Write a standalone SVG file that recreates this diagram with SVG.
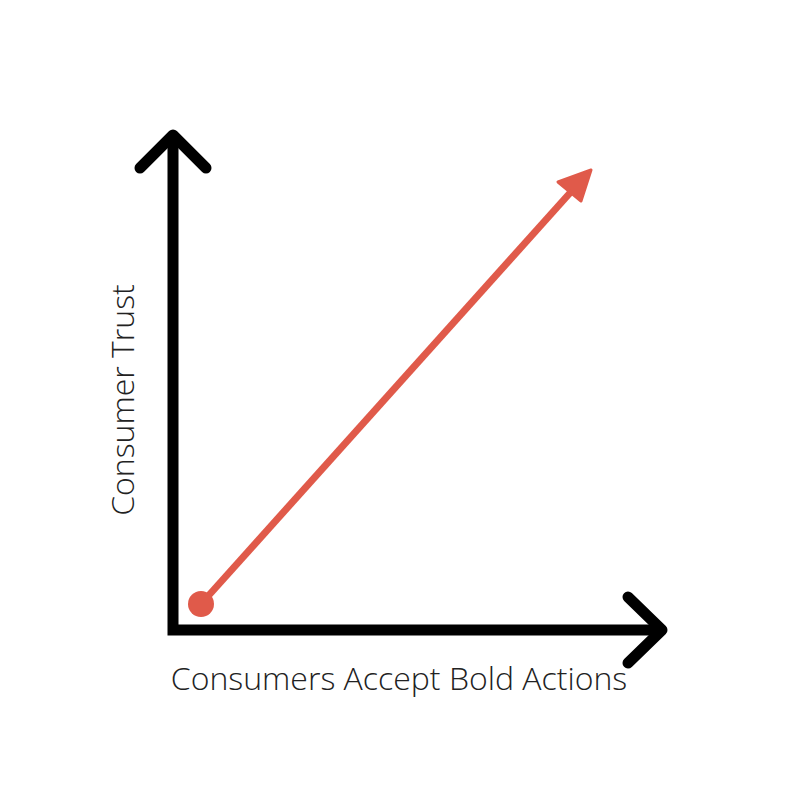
<svg xmlns="http://www.w3.org/2000/svg" width="800" height="800" viewBox="0 0 800 800">
<style>
.axis{fill:none;stroke:#000;stroke-width:11;stroke-linecap:round;stroke-linejoin:round}
.lbl{font-family:"Open Sans","Liberation Sans",sans-serif;font-weight:300;font-size:32px;fill:#222}
</style>
<rect width="800" height="800" fill="#fff"/>
<g id="connectors">
<path class="axis" d="M173,135 V630 H662" style="stroke-linejoin:miter;stroke-linecap:butt"/>
<path class="axis" d="M140,168 L173,135 L206,168"/>
<path class="axis" d="M628,597 L662,630 L628,663"/>
<line x1="201" y1="604" x2="578" y2="184" stroke="#E05A4A" stroke-width="7"/>
<polygon points="591,170 558,182 581,201" fill="#E05A4A" stroke="#E05A4A" stroke-width="3" stroke-linejoin="round"/>
</g>
<g id="start"><circle cx="201" cy="604" r="13" fill="#E05A4A"/></g>
<g id="ylabel"><text class="lbl" transform="translate(134,400) rotate(-90)" text-anchor="middle">Consumer Trust</text></g>
<g id="xlabel"><text class="lbl" x="399" y="690" text-anchor="middle">Consumers Accept Bold Actions</text></g>
</svg>
